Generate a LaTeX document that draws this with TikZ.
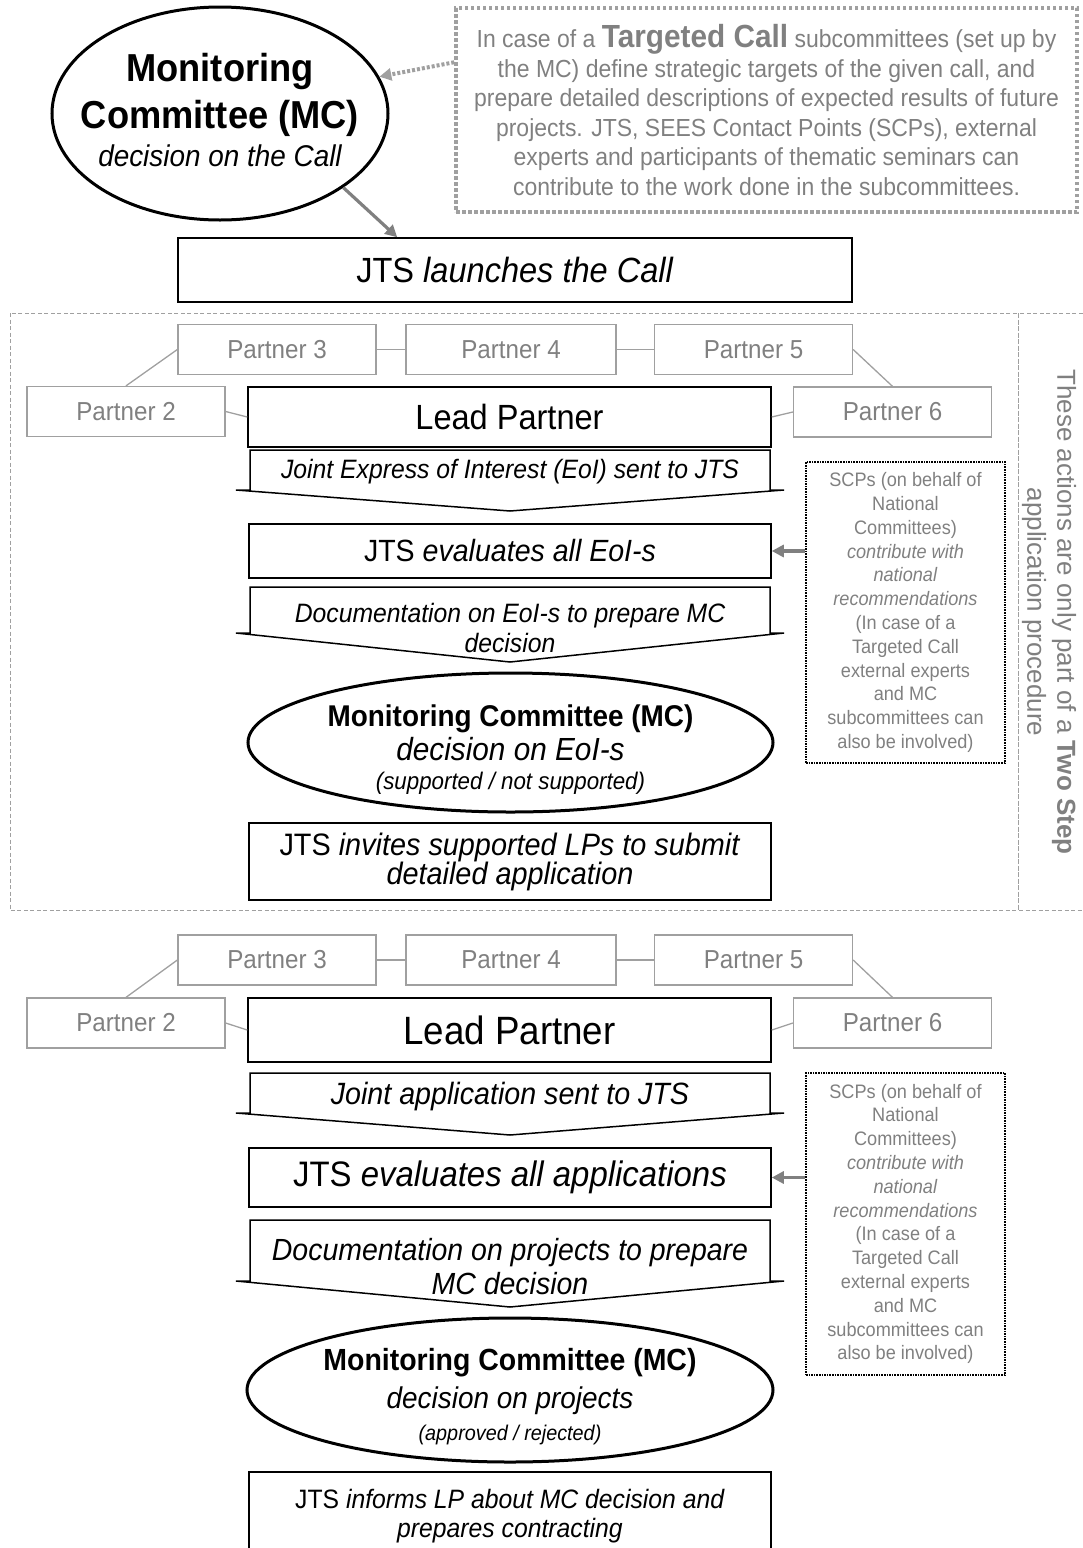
\documentclass[tikz,border=0pt]{standalone}
\usepackage{fontspec}
\setmainfont{Liberation Sans}[FakeStretch=0.93]
\newfontfamily\plainsans{Liberation Sans}
\usetikzlibrary{shapes.geometric,arrows.meta,calc,positioning}

\definecolor{txtgray}{RGB}{128,128,128}
\definecolor{boxgray}{RGB}{160,160,160}
\definecolor{dotgray}{RGB}{160,160,160}

\newcommand{\fs}[2]{\fontsize{#1}{#2}\selectfont}
\newcommand{\scpnote}{SCPs (on behalf of\\National\\Committees)\\\textit{contribute with}\\\textit{national}\\\textit{recommendations}\\(In case of a\\Targeted Call\\external experts\\and MC\\subcommittees can\\also be involved)}
% down arrow round a text node: #1 node, #2 top, #3 shoulder, #4 tip (offsets from its centre)
\newcommand{\chevron}[4]{\draw[chev] ($(#1.center)+(-260,-#2)$) -- ($(#1.center)+(-260,#3)$) -- ++(-14,0) -- ($(#1.center)+(0,#4)$) -- ($(#1.center)+(274,#3)$) -- ++(-14,0) -- ($(#1.center)+(260,-#2)$) -- cycle;}

\tikzset{
  stage/.style={draw, line width=1.5pt, minimum width=522pt, align=center, inner sep=0pt},
  partner/.style={draw=boxgray, line width=1.3pt, text=txtgray, minimum width=198pt, minimum height=50pt, inner sep=0pt, font=\fs{26}{31}},
  link/.style={draw=boxgray, line width=1.3pt},
  mcell/.style={ellipse, draw, line width=3pt, inner sep=0pt},
  chev/.style={draw, line width=1.5pt},
  scpbox/.style={draw, densely dotted, line width=1.6pt, text=txtgray, align=center, minimum width=199pt, inner sep=0pt, font=\fs{19.5}{23.8}},
  feed/.style={draw=txtgray, line width=3.2pt, -{Triangle[length=12pt,width=12pt]}},
  frame/.style={draw=boxgray, line width=1pt, dash pattern=on 4pt off 2.5pt}
}

\begin{document}
\begin{tikzpicture}[x=1pt,y=-1pt]
\useasboundingbox (0,0) rectangle (1083,1548);

% call
\node[mcell, minimum width=336pt, minimum height=213pt] (mc1) at (220,113.5) {};
\node[align=center, inner sep=0pt, font=\fs{39}{47}] (mc1txt) at (220,110) {\textbf{Monitoring}\\\textbf{Committee (MC)}\\[-9pt]{\fs{30}{38}\itshape decision on the Call}};
\node[draw=dotgray, line width=3.5pt, dash pattern=on 3.5pt off 2.5pt, minimum width=621pt, minimum height=204pt, text=txtgray, align=center, font=\fs{24.7}{29.5}] (tc) at (766.5,110)
  {In case of a {\fs{32}{29.5}\bfseries Targeted Call} subcommittees (set up by\\
   the MC) define strategic targets of the given call, and\\
   prepare detailed descriptions of expected results of future\\
   projects. JTS, SEES Contact Points (SCPs), external\\
   experts and participants of thematic seminars can\\
   contribute to the work done in the subcommittees.};
\draw[draw=dotgray, line width=4pt, dash pattern=on 3pt off 2pt, -{Triangle[length=12pt,width=12pt]}] ($(tc.north west)+(0,56)$) -- (mc1.13);
\node[stage, minimum width=674pt, minimum height=64pt, font=\fs{35}{40}] (launch) at (515,270) {JTS \textit{launches the Call}};
\draw[feed] (mc1.-31) -- ($(launch.north west)+(220,0)$);

% first step
\draw[frame] (10,313) rectangle (1018,910);
\draw[frame] (1018,313) rectangle (1100,910);
\node[rotate=-90, text=txtgray, align=center, font=\plainsans\fs{26}{30}] (note) at (1049,612) {These actions are only part of a \textbf{Two Step}\\application procedure};

\node[partner] (p3) at (277,349.5) {Partner 3};
\node[partner, minimum width=210pt] (p4) at (511,349.5) {Partner 4};
\node[partner] (p5) at (753.5,349.5) {Partner 5};
\node[partner] (p2) at (126,411.5) {Partner 2};
\node[partner] (p6) at (892.5,412) {Partner 6};
\node[stage, minimum width=523pt, minimum height=60pt, font=\fs{35}{40}] (lp) at (509.5,417) {Lead Partner};
\draw[link] (p3.west) -- (p2.north);
\draw[link] (p3) -- (p4);
\draw[link] (p4) -- (p5);
\draw[link] (p5.east) -- (p6.north);
\draw[link] (p2.east) -- (lp.west);
\draw[link] (p6.west) -- (lp.east);

\node[inner sep=0pt, font=\fs{26.6}{31}\itshape] (eoi) at (510,472) {Joint Express of Interest (EoI) sent to JTS};
\chevron{eoi}{22}{18}{39}
\node[stage, minimum height=54pt, font=\fs{30.7}{36}] (ev1) at (510,551) {JTS \textit{evaluates all EoI-s}};
\node[align=center, inner sep=0pt, font=\fs{26.6}{30}\itshape] (doc1) at (510,628) {Documentation on EoI-s to prepare MC\\decision};
\chevron{doc1}{41}{5}{34}
\node[mcell, minimum width=525pt, minimum height=139pt] (mc2) at (510.5,742.5) {};
\node[align=center, inner sep=0pt, font=\fs{30}{33.8}] (mc2txt) at (510.5,749.6) {\textbf{Monitoring Committee (MC)}\\\textit{\fs{32}{33.8}decision on EoI-s}\\[-4.7pt]{\fs{24}{24}\itshape (supported / not supported)}};
\node[stage, minimum height=77pt, font=\fs{31}{29}] (inv1) at (510,861.5) {JTS \textit{invites supported LPs to submit}\\\textit{detailed application}};
\node[scpbox, minimum height=301pt] (scp1) at (905.5,612.5) {\scpnote};
\draw[feed] (scp1.west |- ev1.east) -- (ev1.east);

% second step
\node[partner] (p3b) at (277,960) {Partner 3};
\node[partner, minimum width=210pt] (p4b) at (511,960) {Partner 4};
\node[partner] (p5b) at (753.5,960) {Partner 5};
\node[partner] (p2b) at (126,1023) {Partner 2};
\node[partner] (p6b) at (892.5,1023) {Partner 6};
\node[stage, minimum width=523pt, minimum height=64pt, font=\fs{39.5}{44}] (lpb) at (509.5,1030) {Lead Partner};
\draw[link] (p3b.west) -- (p2b.north);
\draw[link] (p3b) -- (p4b);
\draw[link] (p4b) -- (p5b);
\draw[link] (p5b.east) -- (p6b.north);
\draw[link] (p2b.east) -- (lpb.west);
\draw[link] (p6b.west) -- (lpb.east);

\node[inner sep=0pt, font=\fs{30.8}{36}\itshape] (app) at (510,1097) {Joint application sent to JTS};
\chevron{app}{24}{16}{38}
\node[stage, minimum height=59pt, font=\fs{35.4}{40}] (ev2) at (510,1177.5) {JTS \textit{evaluates all applications}};
\node[align=center, inner sep=0pt, font=\fs{30.6}{34}\itshape] (doc2) at (510,1267) {Documentation on projects to prepare\\MC decision};
\chevron{doc2}{47}{14}{40}
\node[mcell, minimum width=526pt, minimum height=144pt] (mc3) at (510,1390) {};
\node[align=center, inner sep=0pt, font=\fs{30.6}{38}] (mc3txt) at (510,1397) {\textbf{Monitoring Committee (MC)}\\\textit{\fs{30}{38}decision on projects}\\[-6pt]{\fs{21.3}{22}\itshape (approved / rejected)}};
\node[stage, minimum height=88pt, font=\fs{26.6}{29}] (fin) at (510,1516) {JTS \textit{informs LP about MC decision and}\\\textit{prepares contracting}};
\node[scpbox, minimum height=302pt] (scp2) at (905.5,1224) {\scpnote};
\draw[feed] (scp2.west |- ev2.east) -- (ev2.east);
\end{tikzpicture}
\end{document}
